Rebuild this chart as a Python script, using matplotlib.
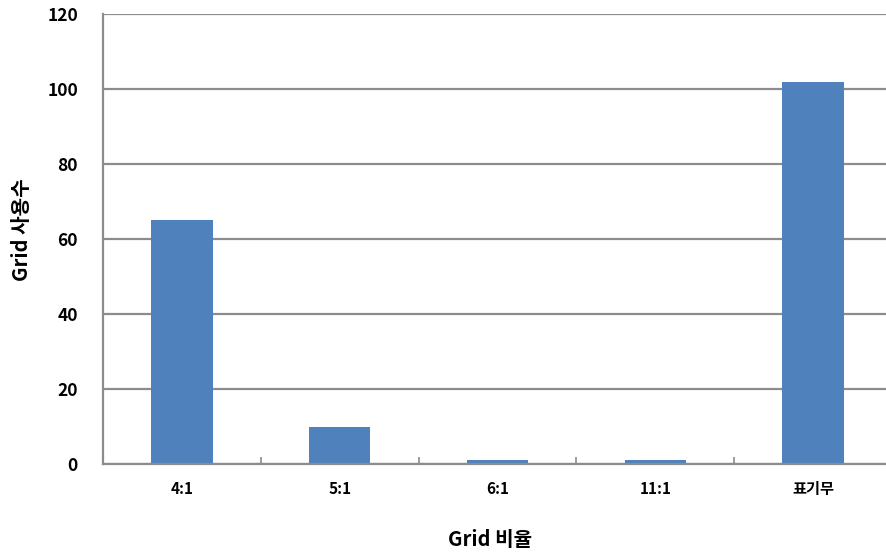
import matplotlib
matplotlib.use("Agg")
import matplotlib.pyplot as plt
import numpy as np

categories = ["4:1", "5:1", "6:1", "11:1", "표기무"]
counts = [65, 10, 1, 1, 102]
y_ticks = [0, 20, 40, 60, 80, 100, 120]

plt.rcParams['font.family'] = ['Noto Sans CJK KR', 'DejaVu Sans']

fig = plt.figure(figsize=(8.86, 5.59), dpi=100)
ax = fig.add_axes([103/886, 95/559, 789/886, 450/559])

x = np.arange(len(categories))
ax.bar(x, counts, width=0.39, color="#4F81BD", zorder=3)

ax.set_xlim(-0.5, len(categories) - 0.5)
ax.set_ylim(0, 120)
ax.set_yticks(y_ticks)
ax.set_yticklabels([str(v) for v in y_ticks], fontsize=12.5, fontweight="bold")
ax.yaxis.grid(True, color="#8c8c8c", linewidth=1.6, zorder=0)
ax.tick_params(axis="y", length=0, pad=18)

# category labels centred under bars, tick marks on category boundaries
ax.set_xticks(x)
ax.set_xticklabels(categories, fontsize=11, fontweight="bold")
ax.tick_params(axis="x", length=0, pad=12)
ax.set_xticks(np.arange(0.5, len(categories) - 0.5), minor=True)
ax.tick_params(axis="x", which="minor", direction="in", length=5,
               width=1.2, color="#8c8c8c")

for side in ("top", "right"):
    ax.spines[side].set_visible(False)
for side in ("left", "bottom"):
    ax.spines[side].set_color("#8c8c8c")
    ax.spines[side].set_linewidth(1.6)
    ax.spines[side].set_zorder(4)

ax.set_xlabel("Grid 비율", fontsize=14.5, fontweight="bold")
ax.set_ylabel("Grid 사용수", fontsize=14.5, fontweight="bold")
ax.xaxis.set_label_coords(0.49, -0.145)
ax.yaxis.set_label_coords(-0.09, 0.52)

fig.savefig("out.png", dpi=100)
